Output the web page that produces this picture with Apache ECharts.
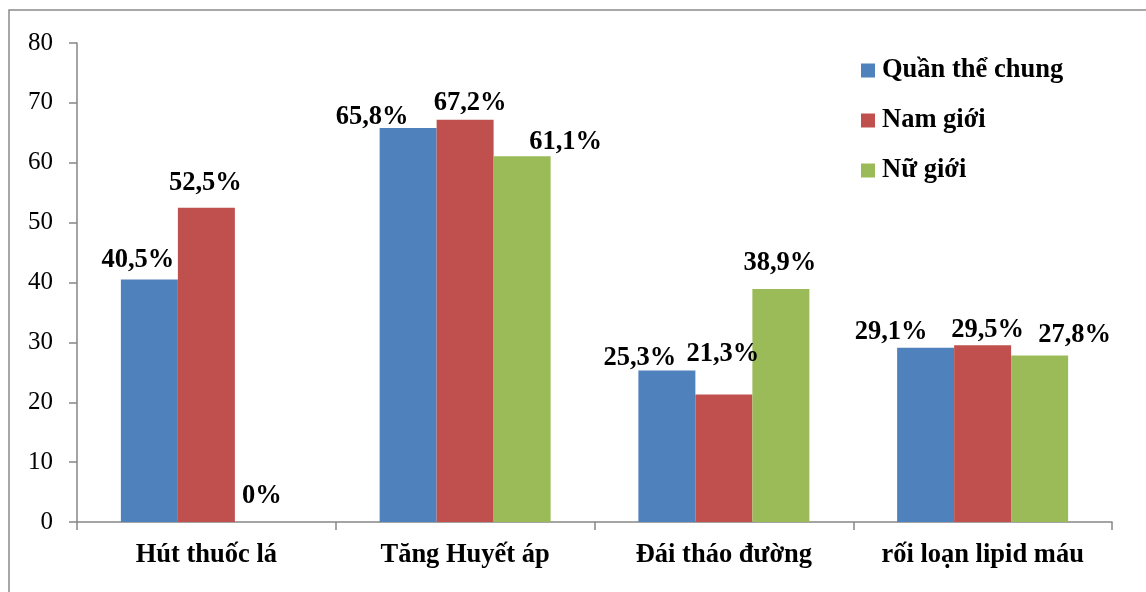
<!DOCTYPE html>
<html>
<head>
<meta charset="utf-8">
<script src="https://cdn.jsdelivr.net/npm/echarts@6/dist/echarts.min.js"></script>
<style>
  html, body { margin: 0; padding: 0; background: #fff; }
  #chart { width: 1146px; height: 592px; }
</style>
</head>
<body>
<div id="chart"></div>
<script>
// Risk factor prevalence by group
const categories = ['Hút thuốc lá', 'Tăng Huyết áp', 'Đái tháo đường', 'rối loạn lipid máu'];
const seriesNames = ['Quần thể chung', 'Nam giới', 'Nữ giới'];
const generalValues = [40.5, 65.8, 25.3, 29.1];
const maleValues = [52.5, 67.2, 21.3, 29.5];
const femaleValues = [0, 61.1, 38.9, 27.8];
const yTickLabels = ['0', '10', '20', '30', '40', '50', '60', '70', '80'];

// Hand-placed nudges for the value labels (pixels, [dx, dy])
const labelShift = [
  [[-11.5, -6], [-36, 3], [-27, 1], [-34.5, -2]],
  [[-1, -11], [5, -3], [-1, -27], [5, -2]],
  [[-1.5, -12.5], [43.5, -1], [-1, -12], [35, -7]]
];

const colors = ['#4F81BD', '#C0504D', '#9BBB59'];
const serif = '"Liberation Serif", "Times New Roman", serif';
const axisGray = '#868686';

function fmt(v) {
  return String(v).replace('.', ',') + '%';
}

function buildSeries(name, values, idx) {
  return {
    name: name,
    type: 'bar',
    barWidth: 57,
    barGap: '0%',
    itemStyle: { color: colors[idx] },
    label: {
      show: true,
      position: 'top',
      distance: 0,
      fontFamily: serif,
      fontWeight: 'bold',
      fontSize: 26.5,
      color: '#000',
      formatter: p => fmt(p.value)
    },
    data: values.map((v, i) => ({ value: v, label: { offset: labelShift[idx][i] } }))
  };
}

const chart = echarts.init(document.getElementById('chart'), null, { renderer: 'canvas' });
chart.setOption({
  animation: false,
  backgroundColor: '#fff',
  graphic: [{
    type: 'rect',
    shape: { x: 9, y: 10, width: 1400, height: 900 },
    style: { fill: 'none', stroke: '#8a8a8a', lineWidth: 1.5 },
    silent: true
  }],
  grid: { left: 77, right: 34, top: 43, bottom: 70, containLabel: false },
  legend: {
    orient: 'vertical',
    left: 861,
    top: 57,
    padding: 0,
    itemWidth: 14,
    itemHeight: 14,
    itemGap: 23,
    itemStyle: { borderWidth: 0 },
    icon: 'rect',
    textStyle: { fontFamily: serif, fontWeight: 'bold', fontSize: 26.5, color: '#000', padding: [0, 0, 0, 2] },
    data: seriesNames
  },
  xAxis: {
    type: 'category',
    data: categories,
    boundaryGap: true,
    axisLine: { lineStyle: { color: axisGray, width: 1.5 } },
    axisTick: { show: true, length: 8, alignWithLabel: false, lineStyle: { color: axisGray, width: 1.5 } },
    axisLabel: { fontFamily: serif, fontWeight: 'bold', fontSize: 26.5, color: '#000', margin: 20, interval: 0 }
  },
  yAxis: {
    type: 'value',
    min: 0,
    max: 80,
    interval: 10,
    splitLine: { show: false },
    axisLine: { show: true, lineStyle: { color: axisGray, width: 1.5 } },
    axisTick: { show: true, length: 8, lineStyle: { color: axisGray, width: 1.5 } },
    axisLabel: {
      fontFamily: serif, fontSize: 25, color: '#000', margin: 24,
      formatter: v => yTickLabels[Math.round(v / 10)]
    }
  },
  series: [
    buildSeries(seriesNames[0], generalValues, 0),
    buildSeries(seriesNames[1], maleValues, 1),
    buildSeries(seriesNames[2], femaleValues, 2)
  ]
});
</script>
</body>
</html>
